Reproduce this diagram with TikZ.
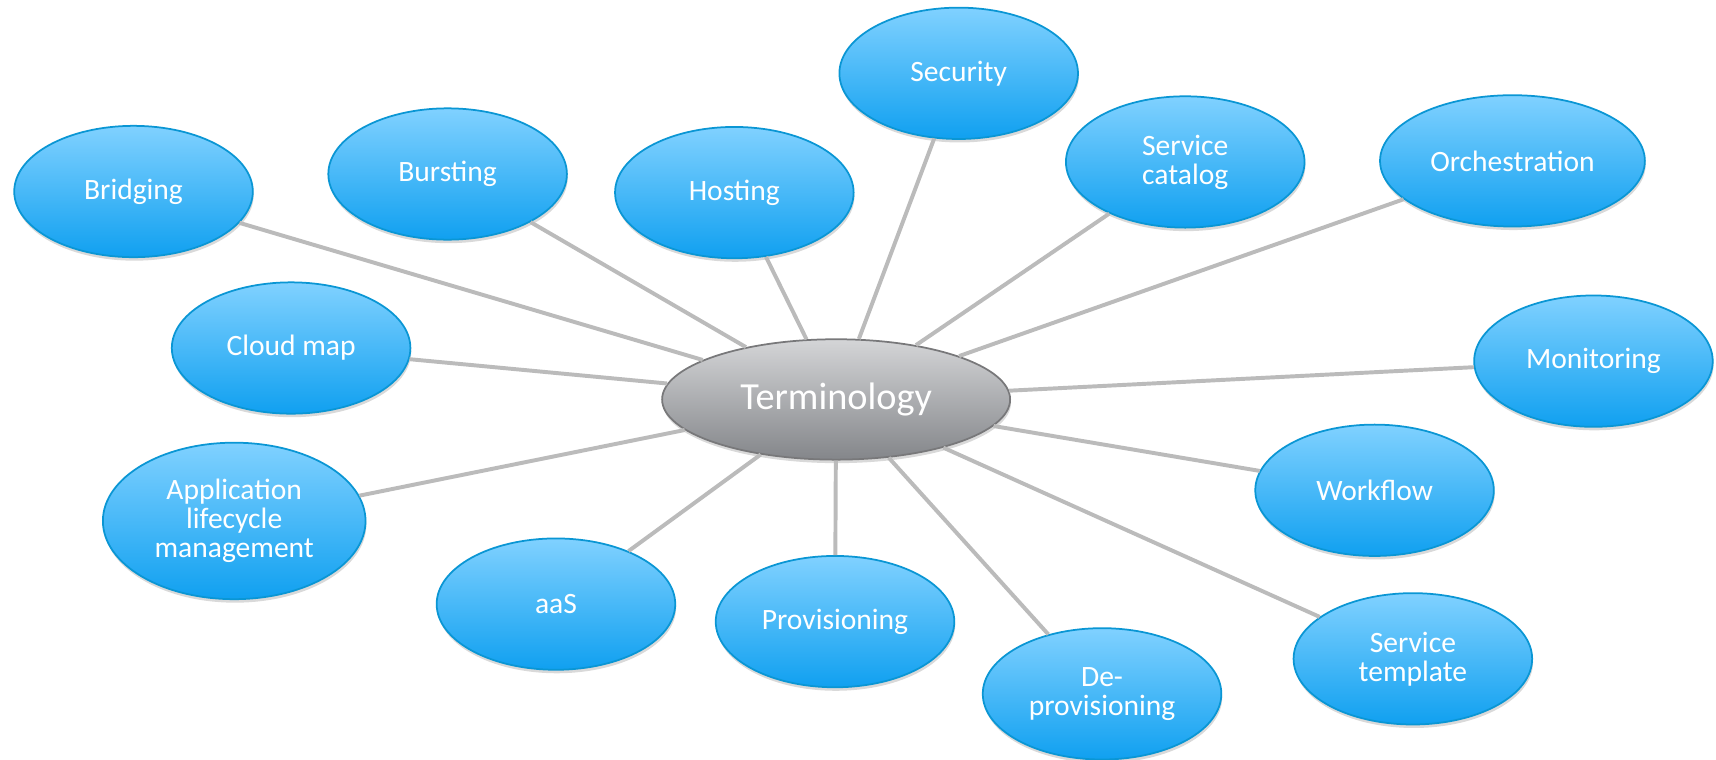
\documentclass[tikz,border=0pt]{standalone}
\usepackage{fontspec}
\setmainfont{Carlito}
\usetikzlibrary{shapes.geometric,shadows}
\definecolor{bluetop}{RGB}{128,209,255}
\definecolor{bluebot}{RGB}{16,160,240}
\definecolor{blueline}{RGB}{10,150,212}
\definecolor{graytop}{RGB}{212,213,215}
\definecolor{graybot}{RGB}{132,134,138}
\definecolor{grayline}{RGB}{120,120,122}
\definecolor{linkgray}{RGB}{187,187,187}
\begin{document}
\begin{tikzpicture}[x=0.5pt,y=-0.5pt,
  term node/.style={ellipse,draw=blueline,line width=0.8pt,top color=bluetop,bottom color=bluebot,
    text=white,align=center,inner sep=0pt,minimum width=109pt,minimum height=60pt,
    font=\fontsize{13.5}{13.3}\selectfont,
    drop shadow={shadow xshift=0.4pt,shadow yshift=-1.6pt,opacity=0.3}},
  hub node/.style={ellipse,draw=grayline,line width=0.8pt,top color=graytop,bottom color=graybot,
    text=white,inner sep=0pt,minimum width=159pt,minimum height=55pt,
    font=\fontsize{17.5}{20}\selectfont,
    drop shadow={shadow xshift=0.4pt,shadow yshift=-1.6pt,opacity=0.3}},
  link/.style={draw=linkgray,line width=1.8pt}]
  \useasboundingbox (0,0) rectangle (1568,694.4);

  \node[hub node] (term) at (764,365) {Terminology};

  \node[term node] (security) at (876,67) {Security};
  \node[term node] (bridging) at (122,175) {Bridging};
  \node[term node] (bursting) at (409,159) {Bursting};
  \node[term node] (hosting) at (671,176) {Hosting};
  \node[term node] (catalog) at (1083,148) {Service\\catalog};
  \node[term node,minimum width=121pt] (orch) at (1382,147) {Orchestration};
  \node[term node] (monitor) at (1456,330) {Monitoring};
  \node[term node] (cloudmap) at (266,318) {Cloud map};
  \node[term node,minimum width=120pt,minimum height=71.5pt] (alm) at (214,476) {Application\\lifecycle\\management};
  \node[term node] (aas) at (508,552) {aaS};
  \node[term node] (prov) at (763,568) {Provisioning};
  \node[term node] (deprov) at (1007,634) {De-\\provisioning};
  \node[term node] (workflow) at (1256,448) {Workflow};
  \node[term node] (template) at (1291,602) {Service\\template};

  \path[link]
   (term) edge (security)
   (term) edge (bridging)
   (term) edge (bursting)
   (term) edge (hosting)
   (term) edge (catalog)
   (term) edge (orch)
   (term) edge (monitor)
   (term) edge (cloudmap)
   (term) edge (alm)
   (term) edge (aas)
   (term) edge (prov)
   (term) edge (deprov)
   (term) edge (workflow)
   (term) edge (template);
\end{tikzpicture}
\end{document}
